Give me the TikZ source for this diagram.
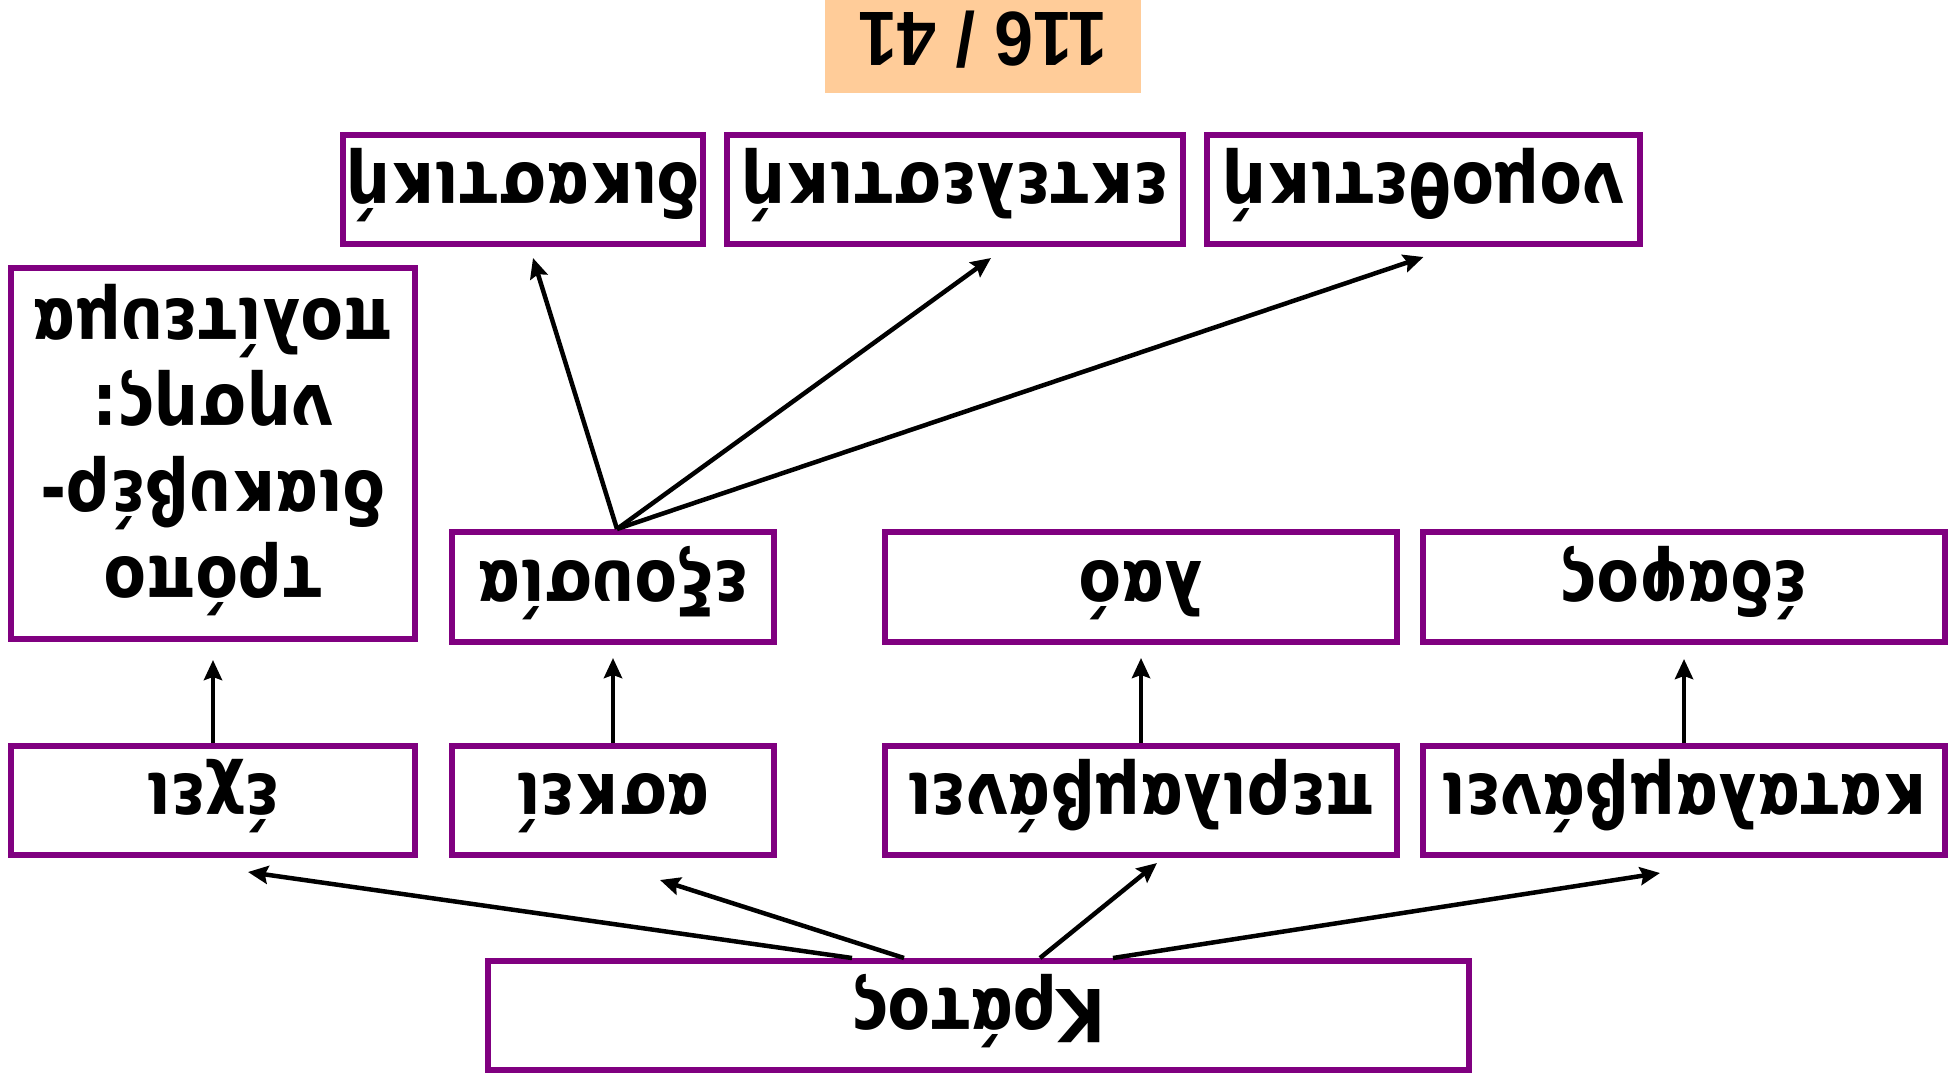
\documentclass[tikz,border=0pt]{standalone}
\usepackage{fontspec}
\setmainfont{DejaVu Sans}
\newfontfamily\titlefont{Liberation Sans}
\usepackage{graphicx}
\usetikzlibrary{arrows.meta,calc}
\definecolor{boxpurple}{RGB}{128,0,128}
\definecolor{titlepeach}{RGB}{255,204,153}
\newcommand{\flipped}[1]{\rotatebox{180}{\scalebox{0.85}[1]{#1}}}
\newcommand{\flippedtitle}[1]{\rotatebox{180}{\scalebox{0.91}[1]{#1}}}
\tikzset{
  bigfont/.style={font=\fontsize{73}{86}\selectfont\bfseries},
  box/.style={draw=boxpurple, line width=6pt, rectangle, inner sep=0pt,
    text height=0pt, text depth=52pt, bigfont},
  conn/.style={line width=4.5pt, -{Stealth[length=20pt,width=18pt,inset=3pt]}},
}
\begin{document}
\begin{tikzpicture}[x=1pt,y=-1pt]
\useasboundingbox (0,0) rectangle (1950,1081);
% title
\node[fill=titlepeach, inner sep=0pt, minimum width=316pt, minimum height=93pt,
  text height=0pt, text depth=67pt, font=\titlefont\fontsize{77}{86}\selectfont\bfseries] (title) at (983,46.5) {\flippedtitle{116 / 41}};
% top row
\node[box, minimum width=360pt, minimum height=109pt] (dik) at (523,189.5) {\flipped{δικαστική}};
\node[box, minimum width=456pt, minimum height=109pt] (ekt) at (955,189.5) {\flipped{εκτελεστική}};
\node[box, minimum width=433pt, minimum height=109pt] (nom) at (1423.5,189.5) {\flipped{νομοθετική}};
% left tall box
\node[box, minimum width=404pt, minimum height=371pt, text height=207pt, text depth=0pt] (tropo) at (213,453.5)
  {\flipped{\begin{tabular}[t]{@{}c@{}}τρόπο\\διακυβέρ-\\νησης:\\πολίτευμα\end{tabular}}};
% middle row
\node[box, minimum width=322pt, minimum height=110pt] (exous) at (613,587) {\flipped{εξουσία}};
\node[box, minimum width=512pt, minimum height=110pt] (lao) at (1141,587) {\flipped{λαό}};
\node[box, minimum width=522pt, minimum height=110pt] (edafos) at (1684,587) {\flipped{έδαφος}};
% lower row
\node[box, minimum width=404pt, minimum height=109pt] (echei) at (213,800.5) {\flipped{έχει}};
\node[box, minimum width=322pt, minimum height=109pt] (askei) at (613,800.5) {\flipped{ασκεί}};
\node[box, minimum width=512pt, minimum height=109pt] (peril) at (1141,800.5) {\flipped{περιλαμβάνει}};
\node[box, minimum width=522pt, minimum height=109pt] (katal) at (1684,800.5) {\flipped{καταλαμβάνει}};
% bottom
\node[box, minimum width=981pt, minimum height=109pt] (kratos) at (978.5,1015.5) {\flipped{Κράτος}};
% connectors from Κράτος
\draw[conn] ($(kratos.north)+(-126.5,0)$) -- ($(echei.south)+(35,14)$);
\draw[conn] ($(kratos.north)+(-74.5,0)$) -- ($(askei.south)+(47,22)$);
\draw[conn] ($(kratos.north)+(61.5,0)$) -- ($(peril.south)+(16,5)$);
\draw[conn] ($(kratos.north)+(134.5,0)$) -- ($(katal.south)+(-24,15)$);
% vertical connectors
\draw[conn] (echei.north) -- ($(tropo.south)+(0,18)$);
\draw[conn] (askei.north) -- ($(exous.south)+(0,13)$);
\draw[conn] (peril.north) -- ($(lao.south)+(0,13)$);
\draw[conn] (katal.north) -- ($(edafos.south)+(0,14)$);
% connectors from εξουσία
\draw[conn] ($(exous.north)+(4,0)$) -- ($(dik.south)+(10,11)$);
\draw[conn] ($(exous.north)+(4,0)$) -- ($(ekt.south)+(36,11)$);
\draw[conn] ($(exous.north)+(4,0)$) -- ($(nom.south)+(0,10)$);
\end{tikzpicture}
\end{document}
